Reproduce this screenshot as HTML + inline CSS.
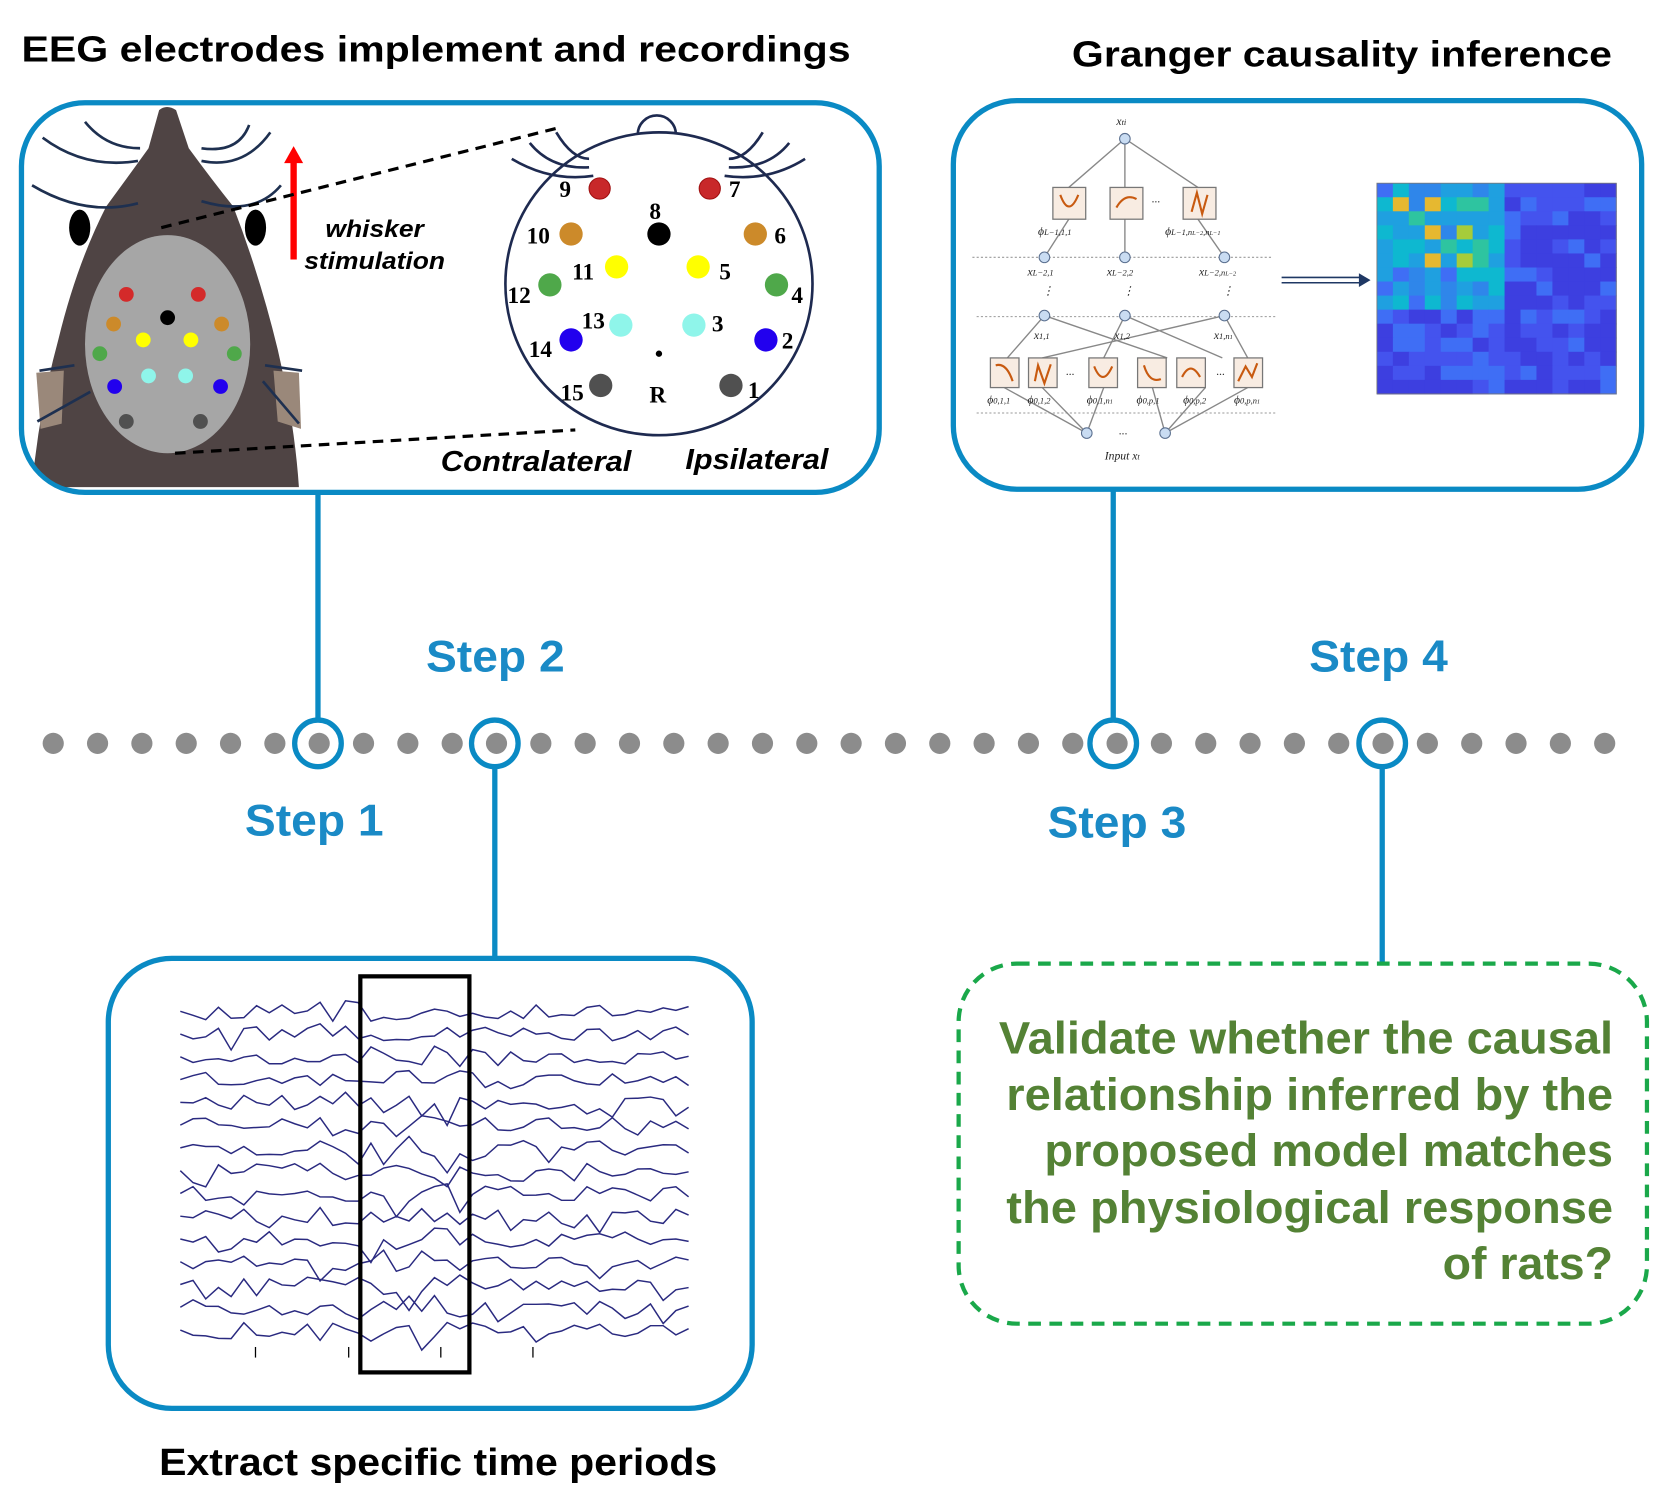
<!DOCTYPE html>
<html><head><meta charset="utf-8"><style>
html,body{margin:0;padding:0;background:#fff}
svg{display:block}
text{font-family:"Liberation Sans",sans-serif}
.st{fill:#1a8ac6;font-weight:bold;font-size:42px}
.num{font-family:"Liberation Serif",serif;font-weight:bold;font-size:22px;fill:#000}
.gt{fill:#548235;font-weight:bold;font-size:43px;text-anchor:end}
.mt{font-family:"Liberation Serif",serif;font-style:italic;font-size:11px;fill:#222}
</style></head><body>
<svg id="s" width="1661" height="1509" viewBox="0 0 1568 1425" xmlns="http://www.w3.org/2000/svg">
<text x="20" y="58" font-size="34" font-weight="bold" textLength="783" lengthAdjust="spacingAndGlyphs">EEG electrodes implement and recordings</text>
<text x="1012" y="63" font-size="34" font-weight="bold" textLength="510" lengthAdjust="spacingAndGlyphs">Granger causality inference</text>

<g stroke="#0a8ac4" stroke-width="5" fill="none">
<line x1="300" y1="465" x2="300" y2="680"/>
<line x1="1051" y1="462" x2="1051" y2="680"/>
<line x1="467" y1="724" x2="467" y2="905"/>
<line x1="1305" y1="724" x2="1305" y2="910"/>
</g>
<g id="dots" fill="#8c8c8c"></g>
<g stroke="#0a8ac4" stroke-width="5" fill="none">
<circle cx="300" cy="702" r="22"/><circle cx="467" cy="702" r="22"/>
<circle cx="1051" cy="702" r="22"/><circle cx="1305" cy="702" r="22"/>
</g>
<text class="st" x="402" y="634" textLength="131" lengthAdjust="spacingAndGlyphs">Step 2</text>
<text class="st" x="1236" y="634" textLength="131" lengthAdjust="spacingAndGlyphs">Step 4</text>
<text class="st" x="231" y="789" textLength="131" lengthAdjust="spacingAndGlyphs">Step 1</text>
<text class="st" x="989" y="791" textLength="131" lengthAdjust="spacingAndGlyphs">Step 3</text>

<!-- Box 1 -->
<rect x="20" y="97" width="810" height="368" rx="60" fill="#fff" stroke="#0a8ac4" stroke-width="5"/>
<clipPath id="c1"><rect x="22" y="99" width="806" height="364" rx="58"/></clipPath>
<g clip-path="url(#c1)">
<path d="M150,104 Q157,98 166,104 L178,140 Q200,170 220,195 Q245,260 262,330 Q278,400 282,460 L30,460 Q36,390 55,320 Q72,250 100,195 Q122,165 140,140 Z" fill="#4f4444"/>
<ellipse cx="75" cy="215" rx="10" ry="17" fill="#000"/>
<ellipse cx="241" cy="215" rx="10" ry="17" fill="#000"/>
<ellipse cx="158" cy="325" rx="78" ry="103" fill="#a6a6a6"/>
<path d="M34,352 L60,350 L58,400 L38,405 Z" fill="#9a887a"/>
<path d="M258,350 L282,352 L284,405 L262,398 Z" fill="#9a887a"/>
<g fill="none" stroke="#1e3050" stroke-width="2.5">
<path d="M40,130 Q80,160 130,152"/><path d="M30,175 Q80,205 130,192"/><path d="M80,115 Q100,140 132,140"/>
<path d="M190,152 Q230,160 255,125"/><path d="M190,190 Q240,205 265,175"/><path d="M190,140 Q225,145 235,118"/>
<path d="M37,350 L70,345"/><path d="M35,398 L85,370"/><path d="M250,345 L285,350"/><path d="M248,360 L282,400"/>
</g>
</g>
<g>
<circle cx="119" cy="278" r="7" fill="#d42a2a"/><circle cx="187" cy="278" r="7" fill="#d42a2a"/>
<circle cx="158" cy="300" r="7" fill="#000"/>
<circle cx="107" cy="306" r="7" fill="#cc8a2a"/><circle cx="209" cy="306" r="7" fill="#cc8a2a"/>
<circle cx="135" cy="321" r="7" fill="#ffff00"/><circle cx="180" cy="321" r="7" fill="#ffff00"/>
<circle cx="94" cy="334" r="7" fill="#4fa84a"/><circle cx="221" cy="334" r="7" fill="#4fa84a"/>
<circle cx="140" cy="355" r="7" fill="#8ff5ea"/><circle cx="175" cy="355" r="7" fill="#8ff5ea"/>
<circle cx="108" cy="365" r="7" fill="#2200ee"/><circle cx="208" cy="365" r="7" fill="#2200ee"/>
<circle cx="119" cy="398" r="7" fill="#505050"/><circle cx="189" cy="398" r="7" fill="#505050"/>
</g>
<line x1="277" y1="245" x2="277" y2="152" stroke="#ff0000" stroke-width="6"/>
<polygon points="268,154 286,154 277,138" fill="#ff0000"/>
<text x="307" y="224" font-size="23" font-weight="bold" font-style="italic" textLength="93" lengthAdjust="spacingAndGlyphs">whisker</text>
<text x="287" y="254" font-size="23" font-weight="bold" font-style="italic" textLength="133" lengthAdjust="spacingAndGlyphs">stimulation</text>
<g stroke="#000" stroke-width="3" stroke-dasharray="10,7">
<line x1="152" y1="215" x2="530" y2="120"/>
<line x1="165" y1="428" x2="543" y2="406"/>
</g>
<path d="M602,127 A18,18 0 0 1 638,127" fill="#fff" stroke="#1e2a50" stroke-width="2.5"/>
<ellipse cx="622" cy="268" rx="145" ry="143" fill="none" stroke="#1e2a50" stroke-width="2.5"/>
<g fill="none" stroke="#1e2a50" stroke-width="2.5">
<path d="M556,150 Q540,150 525,125"/><path d="M556,158 Q520,160 500,135"/><path d="M560,166 Q520,172 483,150"/>
<path d="M688,150 Q705,150 720,125"/><path d="M688,158 Q725,160 745,135"/><path d="M684,166 Q725,172 760,150"/>
</g>
<g>
<circle cx="566" cy="178" r="10" fill="#c8282a" stroke="#a01010"/><circle cx="670" cy="178" r="10" fill="#c8282a" stroke="#a01010"/>
<circle cx="622" cy="221" r="11" fill="#000"/>
<circle cx="539" cy="221" r="11" fill="#cc8a2a"/><circle cx="713" cy="221" r="11" fill="#cc8a2a"/>
<circle cx="582" cy="252" r="11" fill="#ffff00"/><circle cx="659" cy="252" r="11" fill="#ffff00"/>
<circle cx="519" cy="269" r="11" fill="#4fa84a"/><circle cx="733" cy="269" r="11" fill="#4fa84a"/>
<circle cx="586" cy="307" r="11" fill="#8ff5ea"/><circle cx="655" cy="307" r="11" fill="#8ff5ea"/>
<circle cx="539" cy="321" r="11" fill="#2200ee"/><circle cx="723" cy="321" r="11" fill="#2200ee"/>
<circle cx="567" cy="364" r="11" fill="#505050"/><circle cx="690" cy="364" r="11" fill="#505050"/>
<circle cx="622" cy="334" r="3" fill="#000"/>
</g>
<text class="num" x="528" y="186">9</text><text class="num" x="688" y="186">7</text>
<text class="num" x="613" y="207">8</text>
<text class="num" x="497" y="230">10</text><text class="num" x="731" y="230">6</text>
<text class="num" x="540" y="264">11</text><text class="num" x="679" y="264">5</text>
<text class="num" x="479" y="286">12</text><text class="num" x="747" y="286">4</text>
<text class="num" x="549" y="310">13</text><text class="num" x="672" y="313">3</text>
<text class="num" x="499" y="337">14</text><text class="num" x="738" y="329">2</text>
<text class="num" x="529" y="378">15</text><text class="num" x="706" y="376">1</text>
<text class="num" x="613" y="380">R</text>
<text x="416" y="445" font-size="27" font-weight="bold" font-style="italic" textLength="180" lengthAdjust="spacingAndGlyphs">Contralateral</text>
<text x="647" y="443" font-size="27" font-weight="bold" font-style="italic" textLength="135" lengthAdjust="spacingAndGlyphs">Ipsilateral</text>

<!-- Box 2 -->
<rect x="900" y="95" width="650" height="367" rx="60" fill="#fff" stroke="#0a8ac4" stroke-width="5"/>
<g stroke="#999" stroke-width="1" stroke-dasharray="2,2">
<line x1="918" y1="243" x2="1200" y2="243"/><line x1="922" y1="299" x2="1205" y2="299"/><line x1="922" y1="390" x2="1205" y2="390"/>
</g>
<g stroke="#888" stroke-width="1.3" fill="none">
<line x1="1062" y1="131" x2="1009" y2="177"/><line x1="1062" y1="131" x2="1062" y2="177"/><line x1="1062" y1="131" x2="1131" y2="177"/>
<line x1="1009" y1="207" x2="986" y2="243"/><line x1="1062" y1="207" x2="1062" y2="243"/><line x1="1131" y1="207" x2="1156" y2="243"/>
<line x1="986" y1="298" x2="951" y2="338"/><line x1="986" y1="298" x2="1102" y2="338"/>
<line x1="1062" y1="298" x2="1042" y2="338"/><line x1="1062" y1="298" x2="1154" y2="338"/>
<line x1="1156" y1="298" x2="984" y2="338"/><line x1="1156" y1="298" x2="1178" y2="338"/>
<line x1="948" y1="366" x2="1026" y2="409"/><line x1="984" y1="366" x2="1026" y2="409"/><line x1="1042" y1="366" x2="1026" y2="409"/>
<line x1="1088" y1="366" x2="1100" y2="409"/><line x1="1138" y1="366" x2="1100" y2="409"/><line x1="1178" y1="366" x2="1100" y2="409"/>
</g>
<g fill="#c9dcf2" stroke="#5a6f8f" stroke-width="1">
<circle cx="1062" cy="131" r="5"/><circle cx="986" cy="243" r="5"/><circle cx="1062" cy="243" r="5"/><circle cx="1156" cy="243" r="5"/>
<circle cx="986" cy="298" r="5"/><circle cx="1062" cy="298" r="5"/><circle cx="1156" cy="298" r="5"/>
<circle cx="1026" cy="409" r="5"/><circle cx="1100" cy="409" r="5"/>
</g>
<g fill="#f8ece2" stroke="#777" stroke-width="1.2">
<rect x="994" y="177" width="31" height="30"/><rect x="1048" y="177" width="31" height="30"/><rect x="1117" y="177" width="31" height="30"/>
<rect x="935" y="338" width="27" height="28"/><rect x="971" y="338" width="27" height="28"/><rect x="1028" y="338" width="27" height="28"/>
<rect x="1074" y="338" width="27" height="28"/><rect x="1111" y="338" width="27" height="28"/><rect x="1165" y="338" width="27" height="28"/>
</g>
<g fill="none" stroke="#c85a10" stroke-width="2">
<path d="M1001,184 Q1009,206 1018,184"/><path d="M1054,196 Q1062,182 1073,188"/><path d="M1125,200 L1130,182 L1135,202 L1140,184"/>
<path d="M940,345 Q950,342 956,360"/><path d="M977,360 L980,345 L986,362 L992,344"/><path d="M1033,346 Q1041,366 1050,346"/>
<path d="M1080,345 Q1085,362 1096,358"/><path d="M1116,356 Q1124,340 1133,356"/><path d="M1169,360 L1176,346 L1182,356 L1187,343"/>
</g>
<g>
<text class="mt" x="1054" y="118">x<tspan font-size="8">ti</tspan></text>
<text class="mt" x="980" y="222">ϕ<tspan font-size="8">L−1,1,1</tspan></text>
<text class="mt" x="1100" y="222">ϕ<tspan font-size="8">L−1,n</tspan><tspan font-size="6">L−2</tspan><tspan font-size="8">,n</tspan><tspan font-size="6">L−1</tspan></text>
<text class="mt" x="1087" y="194">···</text>
<text class="mt" x="970" y="260">x<tspan font-size="8">L−2,1</tspan></text>
<text class="mt" x="1045" y="260">x<tspan font-size="8">L−2,2</tspan></text>
<text class="mt" x="1132" y="260">x<tspan font-size="8">L−2,n</tspan><tspan font-size="6">L−2</tspan></text>
<text class="mt" x="984" y="278">⋮</text><text class="mt" x="1060" y="278">⋮</text><text class="mt" x="1154" y="278">⋮</text>
<text class="mt" x="976" y="320">x<tspan font-size="8">1,1</tspan></text>
<text class="mt" x="1052" y="320">x<tspan font-size="8">1,2</tspan></text>
<text class="mt" x="1146" y="320">x<tspan font-size="8">1,n</tspan><tspan font-size="6">1</tspan></text>
<text class="mt" x="1006" y="357">···</text><text class="mt" x="1148" y="357">···</text>
<text class="mt" x="932" y="381">ϕ<tspan font-size="8">0,1,1</tspan></text>
<text class="mt" x="970" y="381">ϕ<tspan font-size="8">0,1,2</tspan></text>
<text class="mt" x="1026" y="381">ϕ<tspan font-size="8">0,1,n</tspan><tspan font-size="6">1</tspan></text>
<text class="mt" x="1073" y="381">ϕ<tspan font-size="8">0,p,1</tspan></text>
<text class="mt" x="1117" y="381">ϕ<tspan font-size="8">0,p,2</tspan></text>
<text class="mt" x="1165" y="381">ϕ<tspan font-size="8">0,p,n</tspan><tspan font-size="6">1</tspan></text>
<text class="mt" x="1056" y="413">···</text>
<text class="mt" x="1043" y="434">Input x<tspan font-size="8">t</tspan></text>
</g>
<line x1="1210" y1="262" x2="1285" y2="262" stroke="#1f3864" stroke-width="1.5"/>
<line x1="1210" y1="267" x2="1285" y2="267" stroke="#1f3864" stroke-width="1.5"/>
<polygon points="1283,258 1294,264.5 1283,271" fill="#1f3864"/>
<g id="hm"></g>
<rect x="1300" y="173" width="226" height="199" fill="none" stroke="#777" stroke-width="0.8"/>

<!-- Box 3 -->
<rect x="102" y="905" width="608" height="425" rx="60" fill="#fff" stroke="#0a8ac4" stroke-width="5"/>
<g id="eeg" fill="none" stroke="#2a2a80" stroke-width="1.4"></g>
<g stroke="#000" stroke-width="1.2">
<line x1="241" y1="1272" x2="241" y2="1282"/><line x1="329" y1="1272" x2="329" y2="1282"/>
<line x1="416" y1="1272" x2="416" y2="1282"/><line x1="503" y1="1272" x2="503" y2="1282"/>
</g>
<rect x="340" y="922" width="103" height="374" fill="none" stroke="#000" stroke-width="4"/>
<text x="150" y="1393" font-size="36" font-weight="bold" textLength="527" lengthAdjust="spacingAndGlyphs">Extract specific time periods</text>

<!-- Box 4 -->
<rect x="905" y="910" width="650" height="340" rx="55" fill="#fff" stroke="#1aa84a" stroke-width="4" stroke-dasharray="12,8"/>
<text class="gt" x="1523" y="995" textLength="580" lengthAdjust="spacingAndGlyphs">Validate whether the causal</text>
<text class="gt" x="1523" y="1048" textLength="573" lengthAdjust="spacingAndGlyphs">relationship inferred by the</text>
<text class="gt" x="1523" y="1101" textLength="537" lengthAdjust="spacingAndGlyphs">proposed model matches</text>
<text class="gt" x="1523" y="1155" textLength="573" lengthAdjust="spacingAndGlyphs">the physiological response</text>
<text class="gt" x="1523" y="1208" textLength="161" lengthAdjust="spacingAndGlyphs">of rats?</text>
</svg>
<script>
var NS="http://www.w3.org/2000/svg";
var d=document.getElementById("dots");
for(var i=0;i<36;i++){var c=document.createElementNS(NS,"circle");c.setAttribute("cx",50+i*41.86);c.setAttribute("cy",702);c.setAttribute("r",10);d.appendChild(c);}
var seed=7;function r(){seed=(seed*16807)%2147483647;return seed/2147483647;}
var hm=document.getElementById("hm");
var pal=["#3d3fe0","#4453ee","#3f6ef5","#2f86ea","#1fa0e0","#0eb8d0","#2ec4a0","#55cf7a","#a6cc3a","#e6b830"];
for(var y=0;y<15;y++)for(var x=0;x<15;x++){
 var v=r()*3+ (x<8&&y<9? 2.5:0) + (x<8&&y>=1&&y<6?1.2:0) - (x>7?0.6:0);
 if((x==1&&y==1)||(x==3&&y==1)||(x==3&&y==3)||(x==3&&y==5))v=9; else if((x==5&&y==3)||(x==5&&y==5))v=8.5;
 var k=Math.max(0,Math.min(9,Math.floor(v)));
 var q=document.createElementNS(NS,"rect");q.setAttribute("x",1300+x*226/15);q.setAttribute("y",173+y*199/15);
 q.setAttribute("width",226/15+0.5);q.setAttribute("height",199/15+0.5);q.setAttribute("fill",pal[k]);hm.appendChild(q);}
var eg=document.getElementById("eeg");
for(var t=0;t<15;t++){var y0=955+t*21.5,p="";
 for(var x=170;x<=658;x+=12){var a=(x>340&&x<445)?11:(x>290&&x<340?10:7);
  var yy=y0+(r()-0.5)*2*a; if(r()<0.12)yy+=a*1.3; if(x<172)yy=y0; p+=(p?"L":"M")+x.toFixed(1)+","+yy.toFixed(1);}
 var pa=document.createElementNS(NS,"path");pa.setAttribute("d",p);eg.appendChild(pa);}
</script>
</body></html>
